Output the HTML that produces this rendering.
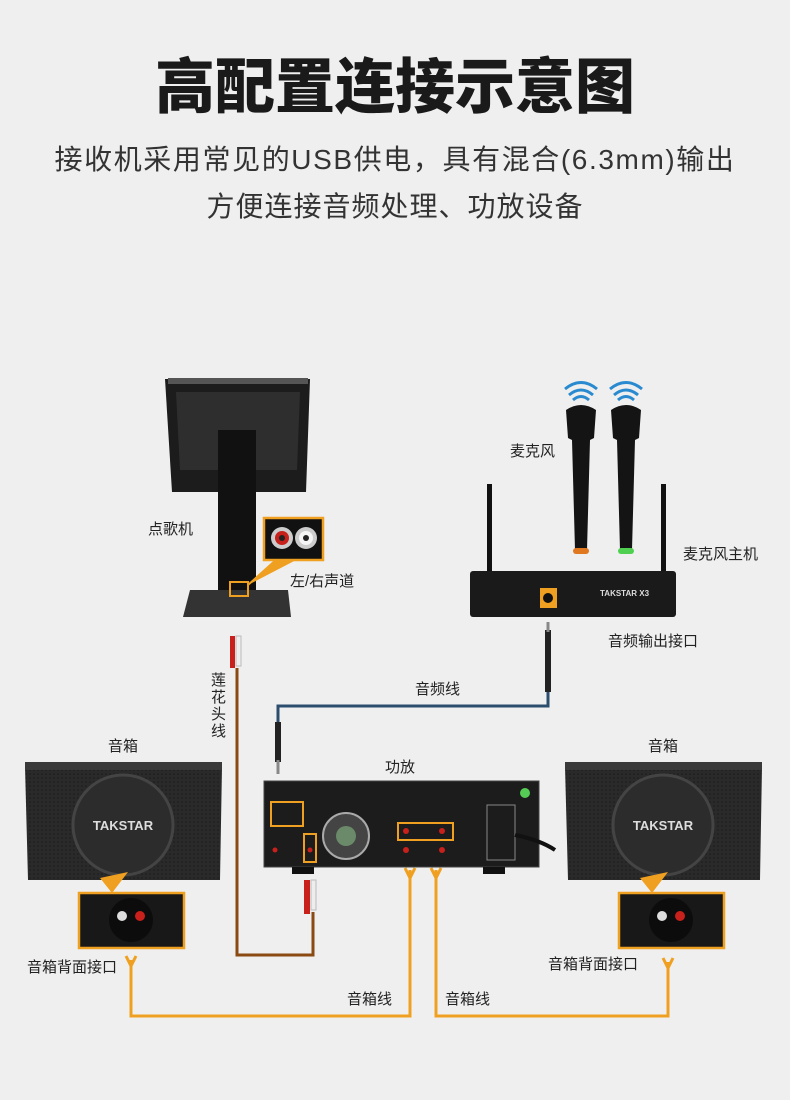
<!DOCTYPE html>
<html><head><meta charset="utf-8"><style>
body{margin:0;width:790px;height:1100px;background:#efefef;overflow:hidden;position:relative;font-family:"Liberation Sans","Noto Sans CJK SC",sans-serif;}
.a{position:absolute;}
.t{position:absolute;color:#222;font-size:15px;white-space:nowrap;line-height:1;}
</style></head><body>
<div class="a" style="left:0;width:790px;top:58px;text-align:center;font-size:60px;font-weight:900;color:#1a1a1a;line-height:1;">高配置连接示意图</div>
<div class="a" style="left:0;width:790px;top:146px;text-align:center;font-size:28px;color:#333;line-height:1;letter-spacing:1.6px;">接收机采用常见的USB供电，具有混合(6.3mm)输出</div>
<div class="a" style="left:0;width:790px;top:193px;text-align:center;font-size:28px;color:#333;line-height:1;letter-spacing:1px;">方便连接音频处理、功放设备</div>

<svg class="a" style="left:0;top:0" width="790" height="1100">
<defs><pattern id="dots" width="4" height="4" patternUnits="userSpaceOnUse"><rect width="4" height="4" fill="#2a2a2a"/><circle cx="2" cy="2" r="0.8" fill="#1a1a1a"/></pattern></defs>
<polyline points="237,668 237,955 313,955 313,912" fill="none" stroke="#8a4a12" stroke-width="3"/>
<polyline points="548,690 548,706 278,706 278,748" fill="none" stroke="#2c4e6e" stroke-width="3"/>
<polyline points="131,960 131,1016 410,1016 410,870" fill="none" stroke="#f0a020" stroke-width="3"/>
<polyline points="436,870 436,1016 668,1016 668,962" fill="none" stroke="#f0a020" stroke-width="3"/>
<path d="M126,956 L131,966 L136,956 M663,958 L668,968 L673,958 M405,868 L410,878 L415,868 M431,868 L436,878 L441,868" stroke="#f0a020" stroke-width="3" fill="none"/>
<rect x="545" y="630" width="6" height="62" fill="#222"/><rect x="546.5" y="622" width="3" height="10" fill="#888"/>
<rect x="275" y="722" width="6" height="40" fill="#222"/><rect x="276.5" y="760" width="3" height="14" fill="#888"/>
<rect x="230" y="636" width="5" height="32" fill="#c8201a"/><rect x="236" y="636" width="5" height="30" fill="#eee" stroke="#bbb"/>
<rect x="304" y="880" width="6" height="34" fill="#c8201a"/><rect x="311" y="880" width="5" height="30" fill="#eee" stroke="#bbb"/>
<path d="M165,379 L310,379 L306,492 L172,492 Z" fill="#1c1c1c"/>
<path d="M176,392 L300,392 L297,470 L180,470 Z" fill="#2e2e2e"/>
<rect x="168" y="378" width="140" height="6" fill="#555"/>
<rect x="218" y="430" width="38" height="162" fill="#111"/>
<path d="M190,590 L288,590 L291,617 L183,617 Z" fill="#333"/>
<rect x="230" y="582" width="18" height="14" fill="none" stroke="#f0a020" stroke-width="2"/>
<path d="M248,585 L278,558 L300,558" fill="#f0a020" stroke="#f0a020" stroke-width="2"/>
<rect x="264" y="518" width="59" height="42" fill="#111" stroke="#f0a020" stroke-width="2.5"/>
<circle cx="282" cy="538" r="11" fill="#ccc"/><circle cx="282" cy="538" r="7" fill="#c8201a"/><circle cx="282" cy="538" r="3" fill="#222"/>
<circle cx="306" cy="538" r="11" fill="#ccc"/><circle cx="306" cy="538" r="7" fill="#f5f5f5"/><circle cx="306" cy="538" r="3" fill="#222"/>
<g fill="none" stroke="#2a8ad0" stroke-width="3">
<path d="M569,395 Q581,385 593,395 M565,389 Q581,376 597,389 M573,400 Q581,393 589,400"/>
<path d="M614,395 Q626,385 638,395 M610,389 Q626,376 642,389 M618,400 Q626,393 634,400"/>
</g>
<path d="M566,410 Q581,400 596,410 L594,438 L590,440 L587,550 L575,550 L572,440 L568,438 Z" fill="#141414"/>
<rect x="573" y="548" width="16" height="6" rx="3" fill="#e07820"/>
<path d="M611,410 Q626,400 641,410 L639,438 L635,440 L632,550 L620,550 L617,440 L613,438 Z" fill="#141414"/>
<rect x="618" y="548" width="16" height="6" rx="3" fill="#50d050"/>
<rect x="487" y="484" width="5" height="100" fill="#111"/><rect x="661" y="484" width="5" height="100" fill="#111"/>
<rect x="470" y="571" width="206" height="46" rx="3" fill="#1a1a1a"/>
<rect x="540" y="588" width="17" height="20" fill="#f0a020"/><circle cx="548" cy="598" r="5" fill="#111"/>
<text x="600" y="596" fill="#ddd" font-size="8" font-weight="bold" font-family="Liberation Sans">TAKSTAR X3</text>
<g id="sp">
<path d="M25,766 L222,766 L220,880 L28,880 Z" fill="url(#dots)"/>
<rect x="25" y="762" width="197" height="8" fill="#3a3a3a"/>
<circle cx="123" cy="825" r="50" fill="#2c2c2c" stroke="#444" stroke-width="3"/>
<text x="123" y="830" text-anchor="middle" fill="#ddd" font-size="13" font-weight="bold" font-family="Liberation Sans">TAKSTAR</text>
<path d="M100,878 L128,872 L112,893 Z" fill="#f0a020"/>
<rect x="79" y="893" width="105" height="55" fill="#181818" stroke="#f0a020" stroke-width="2.5"/>
<circle cx="131" cy="920" r="22" fill="#0c0c0c"/>
<circle cx="122" cy="916" r="5" fill="#ddd"/><circle cx="140" cy="916" r="5" fill="#c8201a"/>
</g>
<use href="#sp" transform="translate(540,0)"/>
<rect x="264" y="781" width="275" height="86" fill="#1c1c1c" stroke="#444"/>
<circle cx="346" cy="836" r="23" fill="#444" stroke="#aaa" stroke-width="2"/>
<circle cx="346" cy="836" r="10" fill="#6a8a6a"/>
<circle cx="525" cy="793" r="5" fill="#5c5"/>
<rect x="271" y="802" width="32" height="24" fill="none" stroke="#f0a020" stroke-width="2"/>
<rect x="304" y="834" width="12" height="28" fill="none" stroke="#f0a020" stroke-width="2"/>
<rect x="398" y="823" width="55" height="17" fill="none" stroke="#f0a020" stroke-width="2"/>
<g fill="#c8201a"><circle cx="406" cy="831" r="3"/><circle cx="442" cy="831" r="3"/><circle cx="406" cy="850" r="3"/><circle cx="442" cy="850" r="3"/><circle cx="275" cy="850" r="2.5"/><circle cx="310" cy="850" r="2.5"/></g>
<rect x="487" y="805" width="28" height="55" fill="none" stroke="#888"/>
<path d="M515,835 Q540,840 555,850" stroke="#111" stroke-width="4" fill="none"/>
<rect x="292" y="867" width="22" height="7" fill="#111"/><rect x="483" y="867" width="22" height="7" fill="#111"/>
</svg>

<div class="t" style="left:148px;top:522px;">点歌机</div>
<div class="t" style="left:290px;top:574px;">左/右声道</div>
<div class="t" style="left:510px;top:444px;">麦克风</div>
<div class="t" style="left:683px;top:547px;">麦克风主机</div>
<div class="t" style="left:608px;top:634px;">音频输出接口</div>
<div class="t" style="left:415px;top:682px;">音频线</div>
<div class="t" style="left:211px;top:672px;width:16px;white-space:normal;line-height:17px;">莲花头线</div>
<div class="t" style="left:108px;top:739px;">音箱</div>
<div class="t" style="left:648px;top:739px;">音箱</div>
<div class="t" style="left:385px;top:760px;">功放</div>
<div class="t" style="left:27px;top:960px;">音箱背面接口</div>
<div class="t" style="left:548px;top:957px;">音箱背面接口</div>
<div class="t" style="left:347px;top:992px;">音箱线</div>
<div class="t" style="left:445px;top:992px;">音箱线</div>
</body></html>
